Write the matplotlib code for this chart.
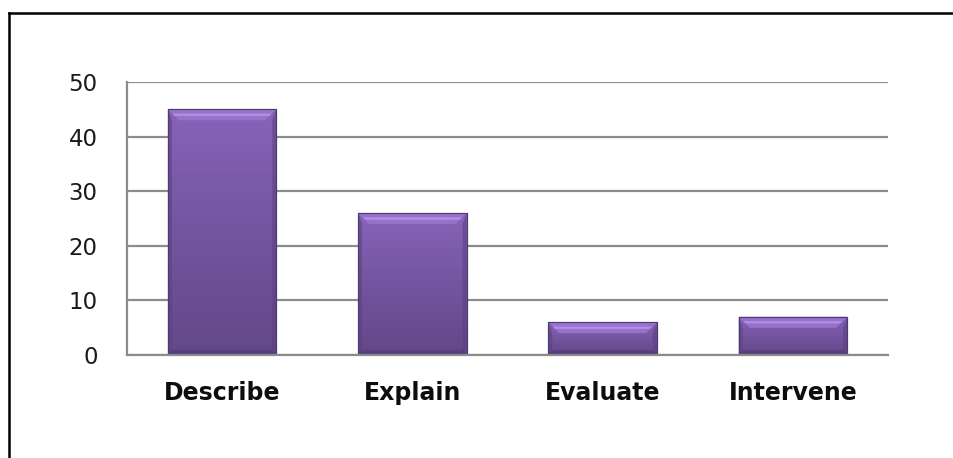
import numpy as np
import matplotlib.pyplot as plt
from matplotlib.lines import Line2D
from matplotlib.patches import Polygon
from matplotlib.colors import LinearSegmentedColormap

# data
categories = ['Describe', 'Explain', 'Evaluate', 'Intervene']
counts = [45, 26, 6, 7]
y_ticks = [0, 10, 20, 30, 40, 50]

plt.rcParams['font.family'] = ['DejaVu Sans']

fig = plt.figure(figsize=(9.54, 4.58), dpi=100)
ax = fig.add_axes([0.1331, 0.2249, 0.7977, 0.5961])

x = np.arange(len(categories))
bar_w = 0.57
bars = ax.bar(x, counts, width=bar_w, color='#7656a3', zorder=2,
              edgecolor='#4e3a6e', linewidth=0.8)

ax.set_xlim(-0.5, len(categories) - 0.5)
ax.set_ylim(0, 50)
ax.set_yticks(y_ticks)
ax.set_xticks(x)
ax.set_xticklabels(categories, fontsize=17, fontweight='bold', color='#0d0d0d')
ax.tick_params(axis='x', length=0, pad=19)
ax.tick_params(axis='y', length=0, pad=21, labelsize=16.5, labelcolor='#1a1a1a')

ax.yaxis.grid(True, color='#8c8c8c', linewidth=1.6, zorder=0)
ax.set_axisbelow(True)
for side in ['top', 'right']:
    ax.spines[side].set_visible(False)
for side in ['left', 'bottom']:
    ax.spines[side].set_color('#8c8c8c')
    ax.spines[side].set_linewidth(1.6)

# pixel -> data scale for the bevel sizes
fig.canvas.draw()
px_x = 1.0 / (ax.bbox.width / (ax.get_xlim()[1] - ax.get_xlim()[0]))
px_y = 1.0 / (ax.bbox.height / (ax.get_ylim()[1] - ax.get_ylim()[0]))

grad = LinearSegmentedColormap.from_list('bar', ['#634889', '#7454a0', '#8763b7'])
for b in bars:
    x0, w, h = b.get_x(), b.get_width(), b.get_height()
    # vertical gradient, darker at the base
    img = np.linspace(0, 1, 64).reshape(-1, 1)
    im = ax.imshow(img, cmap=grad, origin='lower', aspect='auto',
                   extent=[x0, x0 + w, 0, h], zorder=2.1)
    im.set_clip_path(b)
    bev = min(11 * px_y, h * 0.35)
    bx = 11 * px_x
    # top bevel with a light highlight band
    ax.add_patch(Polygon([[x0, h], [x0 + w, h], [x0 + w - bx, h - bev], [x0 + bx, h - bev]],
                         closed=True, facecolor='#9672cb', edgecolor='none', zorder=2.2))
    ax.add_patch(Polygon([[x0 + bx * 0.6, h - bev * 0.6], [x0 + w - bx * 0.6, h - bev * 0.6],
                          [x0 + w - bx * 0.4, h - bev * 0.4], [x0 + bx * 0.4, h - bev * 0.4]],
                         closed=True, facecolor='#bb98ea', edgecolor='none', alpha=0.8, zorder=2.3))
    # side and bottom shading
    sx = 4 * px_x
    ax.add_patch(Polygon([[x0, 0], [x0 + sx, 0], [x0 + sx, h - bev], [x0, h]],
                         closed=True, facecolor='#5a4180', edgecolor='none', alpha=0.6, zorder=2.2))
    ax.add_patch(Polygon([[x0 + w, 0], [x0 + w - sx, 0], [x0 + w - sx, h - bev], [x0 + w, h]],
                         closed=True, facecolor='#5a4180', edgecolor='none', alpha=0.6, zorder=2.2))
    sy = 5 * px_y
    ax.add_patch(Polygon([[x0, 0], [x0 + w, 0], [x0 + w - sx, sy], [x0 + sx, sy]],
                         closed=True, facecolor='#543c78', edgecolor='none', alpha=0.7, zorder=2.2))
    ax.add_patch(Polygon([[x0, 0], [x0 + w, 0], [x0 + w, h], [x0, h]], closed=True,
                         facecolor='none', edgecolor='#4e3a6e', linewidth=0.8, zorder=2.4))

# outer frame (left and top edges)
fig.add_artist(Line2D([9.5 / 954, 9.5 / 954], [0, 1 - 12.5 / 458], color='black', linewidth=1.8))
fig.add_artist(Line2D([9.5 / 954, 1], [1 - 12.5 / 458, 1 - 12.5 / 458], color='black', linewidth=1.8))

fig.savefig('out.png', dpi=100)
